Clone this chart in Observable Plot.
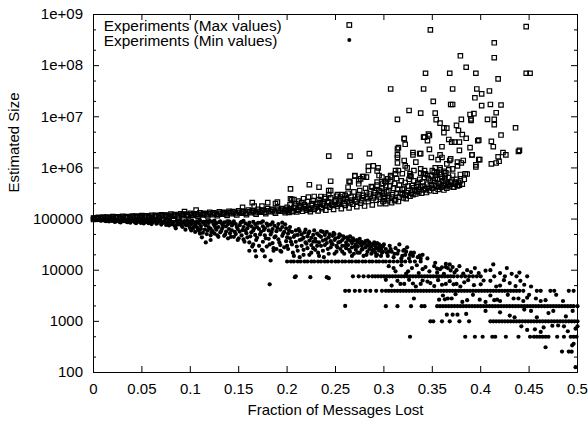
<!DOCTYPE html>
<html><head><meta charset="utf-8">
<script src="https://cdn.jsdelivr.net/npm/d3@7"></script>
<script src="https://cdn.jsdelivr.net/npm/@observablehq/plot@0.6"></script>
<style>body{margin:0;background:#fff}#chart{width:588px;height:421px}</style>
</head><body><div id="chart"></div>
<script>
// ---- axis ticks ----
const xTickValues = [0, 0.05, 0.1, 0.15, 0.2, 0.25, 0.3, 0.35, 0.4, 0.45, 0.5];
const xTickLabels = ["0", "0.05", "0.1", "0.15", "0.2", "0.25", "0.3", "0.35", "0.4", "0.45", "0.5"];
const yTickValues = [100, 1e3, 1e4, 1e5, 1e6, 1e7, 1e8, 1e9];
const yTickLabels = ["100", "1000", "10000", "100000", "1e+06", "1e+07", "1e+08", "1e+09"];
const yMinorValues = [200, 500, 2e3, 5e3, 2e4, 5e4, 2e5, 5e5, 2e6, 5e6, 2e7, 5e7, 2e8, 5e8];
const xLabel = "Fraction of Messages Lost";
const yLabel = "Estimated Size";
const legendMax = "Experiments (Max values)";
const legendMin = "Experiments (Min values)";

// ---- Max values (squares) ----
const maxBandLow = [[0,9.8e4],[0,1.05e5],[0.003,1.02e5],[0.005,1.08e5],[0.008,1.0e5],[0.01,1.1e5],[0.013,1.04e5],[0.015,1.07e5],[0.018,1.01e5],[0.02,1.12e5],[0.023,1.05e5],[0.025,1.09e5],[0.028,1.03e5],[0.03,1.13e5],[0.033,1.06e5],[0.035,1.1e5],[0.038,1.04e5],[0.04,1.15e5],[0.043,1.08e5],[0.045,1.12e5],[0.048,1.05e5],[0.05,1.17e5],[0.053,1.09e5],[0.055,1.14e5],[0.058,1.06e5],[0.06,1.19e5],[0.063,1.1e5],[0.065,1.16e5],[0.068,1.07e5],[0.07,1.21e5],[0.073,1.12e5],[0.075,1.18e5],[0.078,1.09e5],[0.08,1.25e5],[0.083,1.14e5],[0.085,1.2e5],[0.088,1.1e5],[0.09,1.27e5],[0.092,1.16e5],[0.094,1.4e5],[0.096,1.22e5],[0.098,1.12e5],[0.1,1.3e5],[0.103,1.18e5],[0.106,1.5e5],[0.106,1.25e5],[0.108,1.13e5],[0.11,1.32e5],[0.113,1.2e5],[0.115,1.27e5],[0.118,1.15e5],[0.12,1.35e5],[0.123,1.22e5],[0.125,1.3e5],[0.128,1.17e5],[0.13,1.38e5],[0.133,1.24e5],[0.135,1.32e5],[0.138,1.18e5],[0.14,1.42e5],[0.143,1.27e5],[0.145,1.35e5],[0.148,1.2e5],[0.15,1.45e5],[0.153,1.3e5],[0.155,1.38e5],[0.158,1.22e5],[0.16,1.5e5],[0.163,1.33e5],[0.165,1.42e5],[0.168,1.25e5],[0.17,1.55e5],[0.173,1.36e5],[0.175,1.46e5],[0.178,1.28e5],[0.18,1.6e5],[0.183,1.4e5],[0.185,1.5e5],[0.188,1.3e5],[0.19,1.65e5],[0.193,1.43e5],[0.195,1.55e5],[0.198,1.33e5],[0.2,1.7e5],[0.2,1.45e5]];
const maxBandLow2 = [[0.001,1.03e5],[0.004,1.06e5],[0.007,1.03e5],[0.011,1.06e5],[0.014,1.09e5],[0.017,1.05e5],[0.021,1.08e5],[0.024,1.11e5],[0.027,1.07e5],[0.031,1.09e5],[0.034,1.12e5],[0.037,1.08e5],[0.041,1.11e5],[0.044,1.14e5],[0.047,1.1e5],[0.051,1.12e5],[0.054,1.16e5],[0.057,1.11e5],[0.061,1.14e5],[0.064,1.18e5],[0.067,1.13e5],[0.071,1.16e5],[0.074,1.2e5],[0.077,1.14e5],[0.081,1.18e5],[0.084,1.22e5],[0.087,1.16e5],[0.091,1.2e5],[0.093,1.25e5],[0.097,1.18e5],[0.101,1.22e5],[0.104,1.27e5],[0.107,1.2e5],[0.111,1.24e5],[0.114,1.29e5],[0.117,1.22e5],[0.121,1.27e5],[0.124,1.33e5],[0.127,1.24e5],[0.131,1.29e5],[0.134,1.36e5],[0.137,1.26e5],[0.141,1.32e5],[0.144,1.4e5],[0.147,1.28e5],[0.151,1.36e5],[0.154,1.43e5],[0.157,1.31e5],[0.161,1.39e5],[0.164,1.47e5],[0.167,1.34e5],[0.171,1.42e5],[0.174,1.5e5],[0.177,1.37e5],[0.181,1.45e5],[0.184,1.55e5],[0.187,1.4e5],[0.191,1.5e5],[0.194,1.6e5],[0.197,1.44e5],[0.199,1.55e5]];
const maxBandUpper = [[0.154,1.7e5],[0.164,2.1e5],[0.166,1.8e5],[0.174,1.8e5],[0.18,2.1e5],[0.188,2.0e5],[0.19,2.15e5],[0.2035,3.9e5],[0.207,2.4e5]];
const maxBandMid = [[0.202,1.35e5],[0.204,1.6e5],[0.206,1.45e5],[0.208,1.8e5],[0.21,1.38e5],[0.212,1.55e5],[0.214,1.7e5],[0.216,1.42e5],[0.218,1.9e5],[0.22,1.5e5],[0.222,1.62e5],[0.224,1.4e5],[0.226,2.0e5],[0.228,1.55e5],[0.23,1.75e5],[0.232,1.45e5],[0.234,2.1e5],[0.236,1.6e5],[0.238,1.85e5],[0.24,1.5e5],[0.242,2.2e5],[0.244,1.7e5],[0.246,1.95e5],[0.248,1.55e5],[0.25,2.35e5],[0.252,1.8e5],[0.254,2.05e5],[0.256,1.6e5],[0.258,2.5e5],[0.26,1.85e5],[0.262,2.2e5],[0.264,1.65e5],[0.266,2.7e5],[0.268,1.95e5],[0.27,2.4e5],[0.272,1.75e5],[0.274,3.0e5],[0.276,2.05e5],[0.278,2.6e5],[0.28,1.8e5],[0.282,3.3e5],[0.284,2.2e5],[0.286,2.8e5],[0.288,1.9e5],[0.29,3.6e5],[0.292,2.35e5],[0.294,3.0e5],[0.296,2.0e5],[0.298,4.0e5],[0.3,2.5e5],[0.3,3.2e5],
[0.2035,2.5e5],[0.205,2.4e5],[0.212,2.24e5],[0.217,2.5e5],[0.222,2.68e5],[0.228,2.77e5],[0.235,2.77e5],[0.239,2.68e5],[0.243,3.0e5],[0.245,3.6e5],[0.252,3.0e5],[0.255,2.7e5],[0.26,2.9e5],[0.263,4.2e5],[0.265,5.3e5],[0.27,7.1e5],[0.274,4.9e5],[0.276,6.1e5],[0.278,6.8e5],[0.282,6.6e5],[0.288,4.2e5],[0.293,8.7e5],[0.295,7.1e5],[0.293,5.3e5],[0.295,3.6e5],
[0.223,4.7e5],[0.233,4.2e5],[0.243,3.6e5],[0.245,5.5e5],[0.264,5.5e5],[0.27,6.9e5],[0.274,5.6e5],[0.279,6.8e5],[0.284,1.07e6],[0.289,1.1e6],[0.294,1.0e6],[0.284,8.9e5],[0.243,1.7e6],[0.265,1.7e6],[0.285,1.9e6]];
const maxBandMid2 = [[0.201,1.5e5],[0.203,1.9e5],[0.205,1.4e5],[0.207,1.65e5],[0.209,2.0e5],[0.211,1.5e5],[0.213,1.8e5],[0.215,2.1e5],[0.217,1.6e5],[0.219,1.75e5],[0.221,2.2e5],[0.223,1.55e5],[0.225,1.85e5],[0.227,2.3e5],[0.229,1.65e5],[0.231,1.95e5],[0.233,2.4e5],[0.235,1.7e5],[0.237,2.0e5],[0.239,2.5e5],[0.241,1.8e5],[0.243,2.1e5],[0.245,2.6e5],[0.247,1.85e5],[0.249,2.15e5],[0.251,2.8e5],[0.253,1.95e5],[0.255,2.3e5],[0.257,3.0e5],[0.259,2.0e5],[0.261,2.5e5],[0.263,3.2e5],[0.265,2.1e5],[0.267,2.35e5],[0.269,3.4e5],[0.271,2.2e5],[0.273,2.7e5],[0.275,3.6e5],[0.277,2.3e5],[0.279,2.9e5],[0.281,4.0e5],[0.283,2.5e5],[0.285,3.1e5],[0.287,4.3e5],[0.289,2.6e5],[0.291,3.3e5],[0.293,4.6e5],[0.295,2.7e5],[0.297,3.5e5],[0.299,5.0e5],[0.299,2.2e5]];
const maxCluster = [[0.302,2.0e5],[0.303,3.4e5],[0.305,2.6e5],[0.306,4.4e5],[0.308,2.1e5],[0.309,3.0e5],[0.311,5.0e5],[0.312,2.4e5],[0.314,3.8e5],[0.315,2.2e5],[0.317,3.2e5],[0.318,5.6e5],[0.32,2.6e5],[0.321,4.0e5],[0.323,2.5e5],[0.324,3.3e5],[0.326,6.0e5],[0.327,2.8e5],[0.329,4.5e5],[0.33,3.0e5],[0.332,3.6e5],[0.333,3.1e5],[0.335,5.2e5],[0.336,3.4e5],[0.338,4.2e5],[0.339,3.2e5],[0.341,3.7e5],[0.342,6.5e5],[0.344,3.3e5],[0.345,4.8e5],[0.347,3.6e5],[0.348,5.5e5],[0.35,4.0e5],[0.351,5.8e5],[0.353,3.5e5],[0.354,7.2e5],[0.356,3.8e5],[0.357,5.0e5],[0.359,4.2e5],[0.36,6.6e5],[0.362,3.7e5],[0.363,6.2e5],[0.365,4.0e5],[0.366,4.6e5],[0.368,4.3e5],[0.37,5.5e5],[0.372,4.2e5],[0.374,5.0e5],[0.376,4.5e5],[0.378,4.6e5]];
const maxCluster2 = [[0.301,2.8e5],[0.302,4.5e5],[0.304,2.3e5],[0.305,3.6e5],[0.307,5.5e5],[0.308,2.7e5],[0.31,4.0e5],[0.311,2.3e5],[0.313,3.2e5],[0.313,6.2e5],[0.316,2.7e5],[0.316,4.6e5],[0.319,3.0e5],[0.319,3.8e5],[0.322,2.9e5],[0.322,5.2e5],[0.325,3.6e5],[0.325,4.4e5],[0.328,3.2e5],[0.328,6.8e5],[0.331,4.1e5],[0.331,5.6e5],[0.334,3.5e5],[0.334,4.6e5],[0.337,3.8e5],[0.337,6.0e5],[0.34,4.4e5],[0.34,5.3e5],[0.343,3.9e5],[0.343,7.6e5],[0.346,4.2e5],[0.346,6.2e5],[0.349,4.6e5],[0.349,7.0e5],[0.352,4.5e5],[0.352,8.3e5],[0.355,4.4e5],[0.355,6.0e5],[0.358,4.8e5],[0.358,7.5e5],[0.361,4.5e5],[0.361,5.6e5],[0.364,5.0e5],[0.364,8.0e5],[0.367,4.8e5],[0.367,6.5e5],[0.369,5.2e5],[0.371,7.2e5],[0.373,4.8e5],[0.375,6.0e5],[0.377,5.2e5],[0.379,5.6e5],[0.381,4.8e5],[0.383,6.0e5]];
const maxScatter = [[0.301,5.5e5],[0.304,6.1e5],[0.307,7.1e5],[0.312,7.7e5],[0.315,8.9e5],[0.314,1.25e6],[0.314,1.6e6],[0.314,2.35e6],[0.321,3.7e6],[0.322,2.9e6],[0.321,1.4e6],[0.324,1.0e6],[0.327,7.7e5],[0.33,2.0e6],[0.337,1.9e6],[0.333,1.3e6],[0.342,4.0e6],[0.346,4.6e6],[0.338,7.9e5],[0.342,8.9e5],[0.345,7.1e5],[0.35,8.9e5],[0.353,6.3e5],[0.355,8.2e5],[0.358,1.0e6],[0.362,8.6e5],[0.365,1.2e6],[0.368,1.4e6],[0.371,9.6e5],[0.376,1.1e6],[0.374,5.3e5],
[0.315,2.5e6],[0.314,1.8e6],[0.33,1.8e6],[0.338,1.9e6],[0.347,2.3e6],[0.349,1.6e6],[0.341,4.0e6],[0.345,3.4e6],[0.347,4.3e6],[0.321,3.8e6],[0.358,1.8e6],[0.356,1.45e6],[0.36,1.6e6],[0.367,3.6e6],[0.36,2.6e6],[0.369,1.5e6],[0.37,3.2e6],[0.373,3.2e6],[0.378,3.2e6],[0.378,2.2e6],[0.376,1.3e6],[0.38,1.25e6],[0.367,9.2e5],[0.379,7.45e5],[0.386,7.6e5],[0.353,1.0e6],[0.358,9.2e5],[0.363,7.1e5],
[0.338,9.6e5],[0.341,7.7e5],[0.331,8.9e5],[0.327,7.1e5],[0.322,1.1e6],[0.319,7.7e5],[0.312,8.9e5],[0.307,6.6e5],[0.302,5.3e5],[0.298,6.6e5],
[0.389,2.5e6],[0.391,1.8e6],[0.398,1.45e6],[0.395,1.15e6],[0.395,1.05e6],[0.397,3.4e6],[0.411,3.3e6],[0.413,2.6e6],[0.411,1.2e6],[0.416,1.25e6],[0.419,1.35e6],[0.418,1.65e6],[0.423,2.0e6],[0.426,1.8e6],[0.439,2.1e6],[0.44,2.2e6],[0.398,3.5e6],[0.399,1.45e6],[0.391,1.8e6],[0.382,1.4e6],[0.384,7.7e5],[0.376,4.5e5],[0.372,4.2e5]];
const maxOutliers = [[0.389,1.11e7],[0.39,9.1e6],[0.393,1.15e7],[0.38,8.9e6],[0.39,8.5e6],[0.407,8.9e6],[0.414,8.9e6],[0.416,1.2e7],[0.414,7.0e6],[0.436,6.1e6],[0.375,6.8e6],[0.377,5.4e6],[0.381,4.5e6],[0.385,3.8e6],[0.362,4.9e6],[0.421,4.4e6],[0.358,7.5e6],[0.362,6.1e6],[0.365,6.0e6],[0.354,8.8e6],[0.314,8.9e6],[0.326,1.33e7],[0.338,1.18e7],[0.353,1.18e7],[0.369,1.74e7],[0.371,1.74e7],[0.401,1.65e7],[0.41,1.74e7],[0.421,1.7e7],[0.351,2.0e7],[0.394,2.35e7],[0.401,2.8e7],[0.409,3.2e7],[0.307,3.5e7],[0.341,3.5e7],[0.371,3.5e7],[0.396,3.5e7],[0.418,5.5e7],[0.343,7.1e7],[0.368,7.1e7],[0.395,7.1e7],[0.447,7.1e7],[0.451,7.1e7],[0.385,9.3e7],[0.379,1.56e8],[0.414,1.43e8],[0.414,2.8e8],[0.348,5.0e8],[0.447,5.8e8]];

// ---- Min values (dots) ----
const minTop = [[0,1.0e5],[0,9.7e4],[0.002,9.9e4],[0.004,9.5e4],[0.006,1.0e5],[0.008,9.3e4],[0.01,9.8e4],[0.012,9.2e4],[0.012,1.0e5],[0.014,9.6e4],[0.016,9.0e4],[0.018,9.9e4],[0.02,9.4e4],[0.022,8.8e4],[0.024,9.7e4],[0.026,9.1e4],[0.028,8.6e4],[0.03,9.5e4],[0.03,1.0e5],[0.032,9.9e4],[0.034,8.9e4],[0.036,9.3e4],[0.038,8.5e4],[0.04,9.6e4],[0.042,9.0e4],[0.044,8.3e4],[0.044,9.9e4],[0.046,9.4e4],[0.048,8.7e4],[0.05,9.8e4],[0.052,8.2e4],[0.054,9.1e4],[0.056,8.6e4],[0.058,9.5e4],[0.06,8.0e4],[0.062,8.9e4],[0.062,9.7e4],[0.064,9.6e4],[0.066,8.4e4],[0.068,9.2e4],[0.07,7.8e4],[0.072,8.7e4],[0.074,9.4e4],[0.076,8.1e4],[0.078,7.5e4],[0.078,9.6e4],[0.08,9.0e4],[0.082,8.5e4],[0.084,7.3e4],[0.086,9.3e4],[0.088,7.9e4],[0.09,8.6e4],[0.09,9.5e4],[0.092,7.0e4],[0.094,9.1e4],[0.096,7.6e4],[0.098,8.3e4],[0.1,6.6e4],[0.1,9.0e4],[0.095,6.2e4],[0.085,6.6e4]];
const minTop2 = [[0.001,9.8e4],[0.003,9.6e4],[0.005,9.8e4],[0.007,9.4e4],[0.009,9.6e4],[0.011,9.5e4],[0.013,9.1e4],[0.015,9.4e4],[0.017,9.7e4],[0.019,9.2e4],[0.021,9.6e4],[0.023,9.0e4],[0.025,9.4e4],[0.027,8.8e4],[0.029,9.7e4],[0.031,9.1e4],[0.033,9.4e4],[0.035,8.7e4],[0.037,9.6e4],[0.039,9.0e4],[0.041,9.3e4],[0.043,8.6e4],[0.045,9.7e4],[0.047,9.1e4],[0.049,8.4e4],[0.051,9.4e4],[0.053,8.8e4],[0.055,9.6e4],[0.057,8.3e4],[0.059,9.0e4],[0.061,8.6e4],[0.063,9.3e4],[0.065,8.1e4],[0.067,8.8e4],[0.069,9.5e4],[0.071,8.3e4],[0.073,9.0e4],[0.075,7.7e4],[0.077,8.5e4],[0.079,9.2e4],[0.081,7.9e4],[0.083,8.8e4],[0.085,7.5e4],[0.087,8.3e4],[0.089,9.1e4],[0.091,7.4e4],[0.093,8.5e4],[0.095,7.9e4],[0.097,9.2e4],[0.099,7.2e4]];
const minMid = [[0.102,9.3e4],[0.104,7.2e4],[0.106,8.5e4],[0.108,6.3e4],[0.11,5.2e4],[0.11,9.5e4],[0.112,4.4e4],[0.114,8.8e4],[0.116,7.5e4],[0.116,3.5e4],[0.118,6.0e4],[0.12,9.2e4],[0.121,3.9e4],[0.122,5.5e4],[0.124,8.0e4],[0.125,9.3e4],[0.126,6.8e4],[0.128,4.8e4],[0.13,8.7e4],[0.132,5.9e4],[0.134,7.3e4],[0.136,5.0e4],[0.138,9.0e4],[0.14,6.4e4],[0.14,9.0e4],[0.142,4.5e4],[0.144,8.2e4],[0.146,5.6e4],[0.148,7.0e4],[0.15,4.2e4],[0.152,8.5e4],[0.154,6.1e4],[0.155,9.2e4],[0.156,3.6e4],[0.158,5.3e4],[0.16,7.6e4],[0.162,4.6e4],[0.164,2.9e4],[0.165,8.8e4],[0.166,6.6e4],[0.168,3.9e4],[0.17,8.4e4],[0.172,5.0e4],[0.174,2.5e4],[0.175,9.0e4],[0.176,6.1e4],[0.178,4.2e4],[0.18,7.4e4],[0.182,5.3e3],[0.182,3.2e4],[0.184,5.6e4],[0.185,8.6e4],[0.186,2.7e4],[0.188,4.6e4],[0.19,6.8e4],[0.192,3.5e4],[0.194,2.3e4],[0.195,8.5e4],[0.196,5.2e4],[0.198,7.9e4],[0.2,3.0e4],[0.2,4.4e4],
[0.161,2.4e4],[0.167,2.4e4],[0.175,2.4e4],[0.186,2.4e4],[0.193,2.4e4],[0.168,1.86e4],[0.177,1.86e4],[0.183,1.55e4]];
const minMid2 = [[0.101,8.0e4],[0.101,6.0e4],[0.103,8.8e4],[0.103,6.6e4],[0.105,7.6e4],[0.105,5.6e4],[0.107,9.0e4],[0.107,6.9e4],[0.109,8.2e4],[0.109,5.9e4],[0.111,7.3e4],[0.111,6.4e4],[0.113,8.6e4],[0.113,5.4e4],[0.115,7.9e4],[0.115,6.2e4],[0.117,9.1e4],[0.117,5.1e4],[0.119,7.0e4],[0.119,8.4e4],[0.121,6.5e4],[0.121,4.8e4],[0.123,8.9e4],[0.123,5.8e4],[0.125,7.5e4],[0.125,5.2e4],[0.127,8.3e4],[0.127,6.2e4],[0.129,7.0e4],[0.129,4.5e4],[0.131,9.0e4],[0.131,5.5e4],[0.133,7.9e4],[0.133,6.6e4],[0.135,8.6e4],[0.135,4.7e4],[0.137,7.2e4],[0.137,5.7e4],[0.139,8.0e4],[0.139,4.2e4],[0.141,8.7e4],[0.141,5.3e4],[0.143,7.5e4],[0.143,6.0e4],[0.145,9.0e4],[0.145,4.5e4],[0.147,8.0e4],[0.147,5.1e4],[0.149,6.4e4],[0.149,3.9e4],[0.151,7.6e4],[0.151,5.7e4],[0.153,8.8e4],[0.153,4.8e4],[0.155,7.0e4],[0.155,4.0e4],[0.157,8.2e4],[0.157,5.9e4],[0.159,6.6e4],[0.159,4.4e4],[0.161,8.5e4],[0.161,3.5e4],[0.163,7.2e4],[0.163,5.5e4],[0.165,6.0e4],[0.165,3.2e4],[0.167,8.0e4],[0.167,4.9e4],[0.169,7.0e4],[0.169,4.3e4],[0.171,6.4e4],[0.171,3.0e4],[0.173,8.5e4],[0.173,5.6e4],[0.175,7.2e4],[0.175,3.6e4],[0.177,6.6e4],[0.177,4.8e4],[0.179,8.2e4],[0.179,2.9e4],[0.181,6.0e4],[0.181,4.1e4],[0.183,7.8e4],[0.183,5.0e4],[0.185,6.4e4],[0.185,3.4e4],[0.187,7.4e4],[0.187,4.4e4],[0.189,5.8e4],[0.189,2.6e4],[0.191,8.0e4],[0.191,4.0e4],[0.193,6.2e4],[0.193,3.1e4],[0.195,7.0e4],[0.195,4.7e4],[0.197,5.6e4],[0.197,2.8e4],[0.199,6.6e4],[0.199,3.7e4]];
const minSpread = [[0.202,6.0e4],[0.204,3.6e4],[0.206,2.2e4],[0.208,4.8e4],[0.208,7.3e3],[0.21,2.9e4],[0.212,6.4e4],[0.213,1.8e4],[0.215,4.0e4],[0.217,2.5e4],[0.218,5.5e4],[0.22,3.3e4],[0.222,5.2e4],[0.223,2.0e4],[0.224,7.3e3],[0.225,4.3e4],[0.227,2.7e4],[0.228,6.0e4],[0.23,3.6e4],[0.232,2.2e4],[0.233,4.8e4],[0.235,3.0e4],[0.237,5.6e4],[0.238,1.8e4],[0.24,4.0e4],[0.241,7.3e3],[0.242,2.6e4],[0.243,7.0e3],[0.244,5.0e4],[0.246,3.3e4],[0.248,5.4e4],[0.249,2.1e4],[0.25,4.2e4],[0.252,2.8e4],[0.254,5.0e4],[0.255,3.6e4],[0.257,2.3e4],[0.258,4.6e4],[0.26,3.0e4],[0.26,2.0e3],[0.262,4.4e4],[0.264,2.5e4],[0.265,3.8e4],[0.267,1.9e4],[0.268,4.2e4],[0.27,2.9e4],[0.272,3.9e4],[0.273,2.2e4],[0.275,3.4e4],[0.277,3.6e4],[0.278,2.6e4],[0.28,3.3e4],[0.282,2.0e4],[0.283,3.8e4],[0.285,3.0e4],[0.287,3.2e4],[0.288,2.4e4],[0.29,3.5e4],[0.292,1.9e4],[0.293,3.4e4],[0.295,2.8e4],[0.297,3.0e4],[0.298,2.2e4],[0.3,3.2e4],[0.302,2.6e4],[0.304,1.9e4],[0.306,3.0e4],[0.308,2.3e4],[0.31,1.8e4],[0.312,2.7e4],[0.314,2.1e4],[0.316,3.2e4],[0.318,1.7e4],[0.32,2.4e4],[0.322,2.0e4],[0.324,2.8e4],[0.326,1.7e4],[0.328,2.2e4],[0.33,1.9e4],[0.291,2.6e4],[0.296,2.6e4],[0.305,2.3e4],[0.321,2.5e4],[0.337,1.94e4],[0.338,1.7e4],[0.364,1.33e4],[0.36,1.14e4],[0.355,1.07e4]];
const minSpread2 = [[0.201,5.2e4],[0.201,2.6e4],[0.203,4.2e4],[0.203,7.0e4],[0.205,3.2e4],[0.205,5.6e4],[0.207,4.5e4],[0.207,1.9e4],[0.209,3.6e4],[0.209,6.0e4],[0.211,4.9e4],[0.211,2.4e4],[0.213,3.9e4],[0.213,5.8e4],[0.215,3.0e4],[0.215,5.0e4],[0.217,4.3e4],[0.217,2.0e4],[0.219,3.5e4],[0.219,6.2e4],[0.221,4.6e4],[0.221,2.7e4],[0.223,3.8e4],[0.223,5.7e4],[0.225,3.1e4],[0.225,2.2e4],[0.227,4.9e4],[0.227,3.6e4],[0.229,4.1e4],[0.229,2.5e4],[0.231,5.2e4],[0.231,3.0e4],[0.233,3.5e4],[0.233,1.9e4],[0.235,4.5e4],[0.235,5.8e4],[0.237,3.8e4],[0.237,2.4e4],[0.239,4.9e4],[0.239,3.1e4],[0.241,3.4e4],[0.241,5.6e4],[0.243,4.4e4],[0.243,2.1e4],[0.245,3.7e4],[0.245,2.8e4],[0.247,4.7e4],[0.247,3.2e4],[0.249,3.9e4],[0.249,5.1e4],[0.251,3.0e4],[0.251,2.3e4],[0.253,4.4e4],[0.253,3.5e4],[0.255,2.6e4],[0.255,4.8e4],[0.257,3.9e4],[0.257,3.0e4],[0.259,2.1e4],[0.259,4.3e4],[0.261,3.5e4],[0.261,2.7e4],[0.263,4.0e4],[0.263,3.1e4],[0.265,2.3e4],[0.265,4.6e4],[0.267,3.4e4],[0.267,2.8e4],[0.269,3.8e4],[0.269,2.1e4],[0.271,3.2e4],[0.271,2.5e4],[0.273,3.6e4],[0.273,2.9e4],[0.275,2.2e4],[0.275,4.1e4],[0.277,3.0e4],[0.277,2.5e4],[0.279,3.4e4],[0.279,1.9e4],[0.281,2.8e4],[0.281,3.7e4],[0.283,2.3e4],[0.283,3.1e4],[0.285,2.6e4],[0.285,3.5e4],[0.287,2.1e4],[0.287,2.9e4],[0.289,3.2e4],[0.289,2.5e4],[0.291,2.2e4],[0.291,3.0e4],[0.293,2.7e4],[0.293,2.0e4],[0.295,3.2e4],[0.295,2.4e4],[0.297,2.6e4],[0.297,1.9e4],[0.299,2.9e4],[0.299,2.3e4],[0.303,2.2e4],[0.307,2.6e4],[0.311,2.1e4],[0.315,2.4e4],[0.319,1.9e4],[0.323,2.3e4],[0.327,2.0e4],[0.331,2.2e4],[0.335,1.8e4],[0.34,2.0e4],[0.345,1.7e4]];
const minScatter = [[0.353,1.4e4],[0.364,1.15e4],[0.368,1.3e4],[0.371,1.15e4],[0.369,9.9e3],[0.413,1.3e4],
[0.317,5.4e3],[0.321,5.4e3],[0.338,5.4e3],[0.348,5.6e3],[0.364,5.4e3],[0.372,5.3e3],[0.375,5.4e3],
[0.331,2.8e3],[0.357,2.65e3],[0.363,2.7e3],[0.366,2.8e3],[0.37,2.8e3],[0.386,2.6e3],[0.399,2.65e3],[0.414,2.6e3],[0.417,2.65e3],[0.434,2.8e3],[0.439,2.8e3],[0.448,2.9e3],[0.457,2.8e3],[0.467,2.6e3],
[0.33,5.5e3],[0.345,6.0e3],[0.36,5.2e3],[0.383,5.8e3],[0.4,5.3e3],[0.41,6.2e3],[0.42,5.0e3],[0.43,5.6e3],[0.445,5.2e3],
[0.31,1.1e4],[0.325,9.5e3],[0.34,1.05e4],[0.355,9.0e3],[0.375,1.0e4],[0.39,9.2e3],[0.405,9.8e3],[0.42,8.8e3],[0.44,9.0e3],
[0.365,1.35e3],[0.371,1.35e3],[0.376,1.35e3],[0.385,1.4e3],[0.42,1.5e3],[0.43,1.3e3],[0.452,1.6e3],[0.47,1.45e3],
[0.448,680],[0.456,700],[0.465,760],[0.48,830],[0.486,800],[0.498,720],
[0.467,312],[0.484,257],[0.491,257],[0.494,255],[0.496,365],[0.4945,340],[0.498,127]];
const minScatter2 = [[0.305,1.2e4],[0.312,9.5e3],[0.318,1.25e4],[0.323,8.6e3],[0.329,1.1e4],[0.334,1.25e4],[0.336,8.8e3],[0.343,1.15e4],[0.347,9.5e3],[0.352,1.2e4],[0.358,1.05e4],[0.362,8.5e3],[0.366,1.1e4],[0.373,9.0e3],[0.378,1.2e4],[0.382,8.6e3],[0.386,1.0e4],[0.394,1.1e4],[0.398,8.8e3],[0.41,1.0e4],[0.427,1.1e4],[0.432,8.5e3],
[0.302,6.5e3],[0.308,5.0e3],[0.314,6.2e3],[0.326,6.5e3],[0.333,4.8e3],[0.34,6.3e3],[0.352,4.9e3],[0.356,6.4e3],[0.368,6.1e3],[0.379,4.8e3],[0.387,6.4e3],[0.393,5.1e3],[0.403,6.3e3],[0.416,4.8e3],[0.424,6.4e3],[0.436,4.9e3],[0.441,6.2e3],[0.452,4.8e3],
[0.361,3.2e3],[0.374,3.4e3],[0.381,2.4e3],[0.392,3.3e3],[0.405,2.4e3],[0.41,3.2e3],[0.42,2.5e3],[0.428,3.3e3],[0.444,2.5e3],[0.45,3.3e3],[0.462,2.5e3],[0.478,3.3e3],[0.485,2.5e3],
[0.405,1.6e3],[0.435,1.2e3],[0.445,1.7e3],[0.458,1.2e3],[0.475,1.6e3],[0.488,1.25e3],[0.495,1.6e3],
[0.442,800],[0.462,620],[0.474,820],[0.49,640],[0.5,800]];
const minBand14800 = [0.2,0.204,0.207,0.211,0.214,0.218,0.221,0.225,0.228,0.232,0.235,0.239,0.242,0.246,0.25,0.253,0.257,0.26,0.264,0.267,0.271,0.274,0.278,0.281,0.285,0.288,0.292,0.295,0.299,0.302,0.306,0.31,0.314,0.318,0.322,0.327,0.332,0.338];
const minBand7600 = [0.209,0.268,0.274,0.279,0.284,0.288,0.291,0.294,0.297,0.3,0.303,0.306,0.309,0.312,0.315,0.318,0.321,0.324,0.327,0.33,0.333,0.336,0.339,0.342,0.345,0.348,0.351,0.354,0.357,0.36,0.363,0.366,0.369,0.372,0.376,0.38,0.384,0.388,0.392,0.396,0.4,0.414,0.425,0.437,0.448];
const minBand3950 = [0.26,0.264,0.27,0.275,0.281,0.286,0.292,0.298,0.302,0.305,0.308,0.311,0.314,0.317,0.32,0.323,0.326,0.329,0.332,0.335,0.338,0.341,0.344,0.347,0.35,0.353,0.356,0.359,0.362,0.365,0.368,0.371,0.374,0.377,0.38,0.383,0.386,0.389,0.392,0.395,0.398,0.401,0.404,0.407,0.41,0.413,0.416,0.419,0.422,0.425,0.428,0.431,0.434,0.437,0.44,0.444,0.458,0.462,0.472,0.476,0.491,0.496];
const minBand1980 = [0.302,0.314,0.328,0.339,0.342,0.355,0.358,0.361,0.364,0.367,0.37,0.373,0.376,0.379,0.382,0.385,0.388,0.391,0.394,0.397,0.4,0.403,0.406,0.409,0.412,0.415,0.418,0.421,0.424,0.427,0.43,0.433,0.436,0.439,0.442,0.445,0.448,0.451,0.454,0.457,0.46,0.463,0.466,0.469,0.472,0.475,0.478,0.481,0.484,0.487,0.49,0.493,0.496,0.5];
const minBand1000 = [0.348,0.351,0.36,0.368,0.378,0.388,0.41,0.413,0.416,0.419,0.422,0.425,0.428,0.431,0.434,0.437,0.44,0.443,0.446,0.449,0.452,0.455,0.458,0.461,0.464,0.467,0.47,0.473,0.476,0.479,0.482,0.485,0.488,0.491,0.494,0.497,0.5];
const minBand500 = [0.327,0.384,0.394,0.402,0.412,0.415,0.426,0.439,0.451,0.455,0.458,0.461,0.464,0.467,0.47,0.479,0.486,0.493,0.496,0.499];

// ---- build tables ----
const pts = a => a.map(([x, y]) => ({x, y}));
const row = (xs, v) => xs.map(x => ({x, y: v}));
const maxData = [maxBandLow, maxBandLow2, maxBandUpper, maxBandMid, maxBandMid2, maxCluster, maxCluster2, maxScatter, maxOutliers].flatMap(pts);
const minData = [...[minTop, minTop2, minMid, minMid2, minSpread, minSpread2, minScatter, minScatter2].flatMap(pts),
  ...row(minBand14800, 14800), ...row(minBand7600, 7600), ...row(minBand3950, 3950),
  ...row(minBand1980, 1980), ...row(minBand1000, 1000), ...row(minBand500, 500)];

const xLab = new Map(xTickValues.map((v, i) => [v, xTickLabels[i]]));
const yLab = new Map(yTickValues.map((v, i) => [v, yTickLabels[i]]));

const W = 588, H = 421, mL = 93, mR = 11, mT = 14, mB = 49;
const iW = W - mL - mR, iH = H - mT - mB;
const major = 6, minor = 3;

const chart = Plot.plot({
  width: W, height: H,
  marginLeft: mL, marginRight: mR, marginTop: mT, marginBottom: mB,
  style: {fontFamily: "'Liberation Sans', Arial, Helvetica, sans-serif", fontSize: "15px", color: "black", background: "white"},
  x: {domain: [0, 0.5]},
  y: {type: "log", domain: [100, 1e9]},
  marks: [
    Plot.dot(minData, {x: "x", y: "y", r: 2.1, fill: "black", stroke: "none"}),
    Plot.dot(maxData, {x: "x", y: "y", symbol: "square", r: 2.5, stroke: "#000", strokeWidth: 1.2, fill: "none"}),
    Plot.tickX(xTickValues, {x: d => d, insetTop: iH - major, stroke: "black"}),
    Plot.tickX(xTickValues, {x: d => d, insetBottom: iH - major, stroke: "black"}),
    Plot.tickY(yTickValues, {y: d => d, insetRight: iW - major, stroke: "black"}),
    Plot.tickY(yTickValues, {y: d => d, insetLeft: iW - major, stroke: "black"}),
    Plot.tickY(yMinorValues, {y: d => d, insetRight: iW - minor, stroke: "black"}),
    Plot.tickY(yMinorValues, {y: d => d, insetLeft: iW - minor, stroke: "black"}),
    Plot.frame({stroke: "black"}),
    Plot.axisX({ticks: xTickValues, tickFormat: d => xLab.get(d), tickSize: 0, tickPadding: 10.6, label: null}),
    Plot.axisY({ticks: yTickValues, tickFormat: d => yLab.get(d), tickSize: 0, tickPadding: 10.5, label: null}),
    Plot.text([xLabel], {text: d => d, frameAnchor: "bottom", lineAnchor: "bottom", dy: 42}),
    Plot.text([yLabel], {text: d => d, frameAnchor: "left", rotate: -90, lineAnchor: "bottom", dx: -74.5, dy: -1}),
    Plot.text([legendMax], {text: d => d, frameAnchor: "top-left", textAnchor: "start", lineAnchor: "bottom", dx: 10.3, dy: 16, fontSize: 15.4}),
    Plot.text([legendMin], {text: d => d, frameAnchor: "top-left", textAnchor: "start", lineAnchor: "bottom", dx: 10.3, dy: 31.3, fontSize: 15.4})
  ]
});
document.getElementById("chart").appendChild(chart);

// legend samples (to the right of the legend text, gnuplot style)
const svg = d3.select(chart);
svg.append("rect").attr("x", 347).attr("y", 22.7).attr("width", 4.6).attr("height", 4.6)
  .attr("fill", "none").attr("stroke", "#000").attr("stroke-width", 1.2);
svg.append("circle").attr("cx", 349.3).attr("cy", 40).attr("r", 2).attr("fill", "black");
</script>
</body></html>
